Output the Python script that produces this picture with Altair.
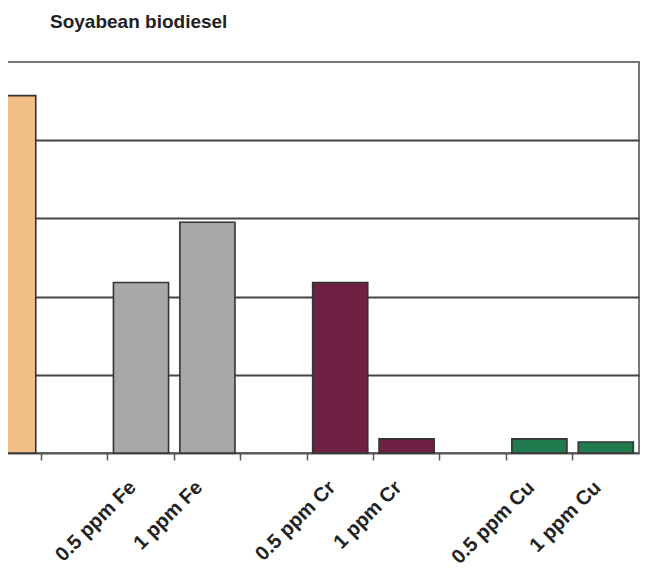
import altair as alt
import pandas as pd

# x scale domain, including the empty spacer slots between groups
categories = ["Neat biodiesel", " ", "0.5 ppm Fe", "1 ppm Fe", "  ",
              "0.5 ppm Cr", "1 ppm Cr", "   ", "0.5 ppm Cu", "1 ppm Cu"]

bar_labels = ["Neat biodiesel", "0.5 ppm Fe", "1 ppm Fe",
              "0.5 ppm Cr", "1 ppm Cr", "0.5 ppm Cu", "1 ppm Cu"]
bar_values = [4.57, 2.18, 2.95, 2.18, 0.18, 0.18, 0.14]
bar_groups = ["Neat", "Fe", "Fe", "Cr", "Cr", "Cu", "Cu"]

group_names = ["Neat", "Fe", "Cr", "Cu"]
group_colors = ["#F2BF88", "#A7A9A6", "#6E2142", "#217A4E"]

y_grid = [1, 2, 3, 4]

df = pd.DataFrame({"cat": bar_labels, "val": bar_values, "grp": bar_groups})

chart = (
    alt.Chart(df)
    .mark_bar(stroke="#333333", strokeWidth=1.6)
    .encode(
        x=alt.X(
            "cat:N",
            sort=categories,
            scale=alt.Scale(domain=categories, paddingInner=0.17, paddingOuter=0.085),
            axis=alt.Axis(
                title=None,
                bandPosition=-0.1024,
                labelAngle=-45,
                labelAlign="right",
                labelBaseline="middle",
                labelOffset=-8,
                labelPadding=24,
                labelFont="Liberation Sans",
                labelFontWeight="bold",
                labelFontSize=20,
                labelColor="#222222",
                labelLimit=300,
                tickSize=7,
                tickColor="#555555",
                tickWidth=1.5,
                domainColor="#555555",
                domainWidth=2,
                grid=False,
            ),
        ),
        y=alt.Y(
            "val:Q",
            scale=alt.Scale(domain=[0, 5], nice=False),
            axis=alt.Axis(
                title=None,
                values=y_grid,
                labels=False,
                ticks=False,
                domain=False,
                grid=True,
                gridColor="#444444",
                gridWidth=2,
            ),
        ),
        color=alt.Color(
            "grp:N",
            scale=alt.Scale(domain=group_names, range=group_colors),
            legend=None,
        ),
    )
    .properties(
        width=664,
        height=391,
        title=alt.Title(
            "Soyabean biodiesel",
            anchor="start",
            frame="group",
            dx=75,
            offset=30,
            font="Liberation Sans",
            fontSize=19,
            fontWeight="bold",
            color="#222222",
        ),
        autosize=alt.AutoSizeParams(type="none"),
        padding={"left": -33, "top": 54, "right": 1, "bottom": 116},
    )
    .configure_view(stroke="#777777", strokeWidth=2)
)

chart.save("out.html", embed_options={"renderer": "svg", "actions": False})
